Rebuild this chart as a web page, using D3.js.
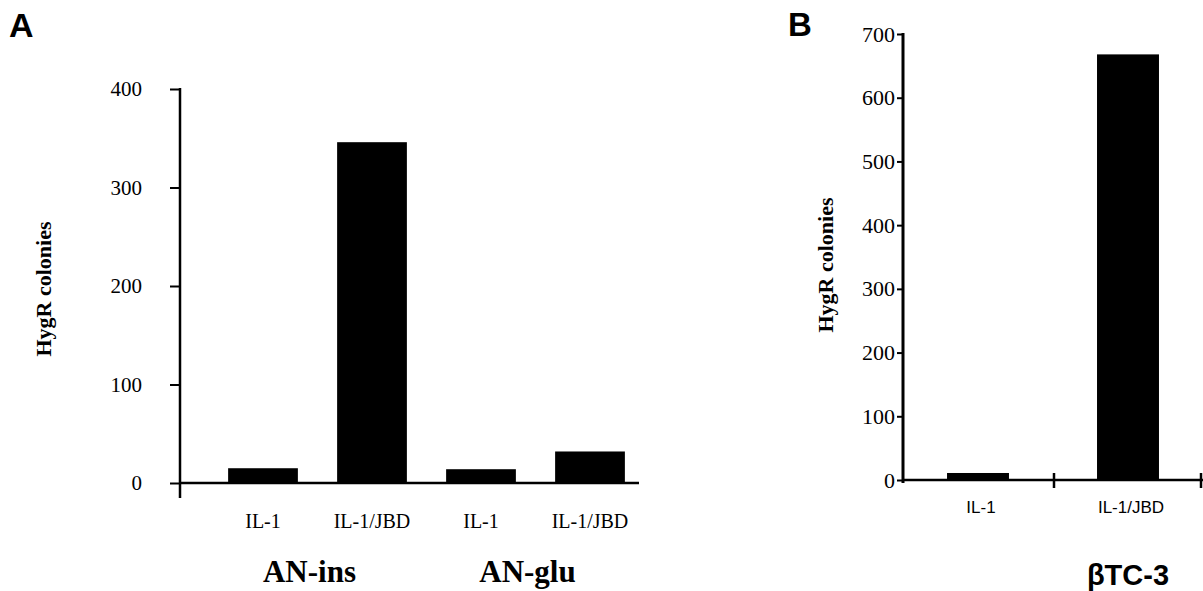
<!DOCTYPE html>
<html>
<head>
<meta charset="utf-8">
<script src="https://cdn.jsdelivr.net/npm/d3@7"></script>
<style>
  body { margin:0; background:#fff; }
</style>
</head>
<body>
<svg width="1203" height="591"></svg>
<script>
// panel A
var catsA = ["IL-1","IL-1/JBD","IL-1 ","IL-1/JBD "];
var valsA = [15,346,14,32];
var groupsA = ["AN-ins","AN-glu"];
var ticksA = [0,100,200,300,400];

// panel B
var catsB = ["IL-1","IL-1/JBD"];
var valsB = [11,668];
var groupB = "\u03B2TC-3";
var ticksB = [0,100,200,300,400,500,600,700];

var SERIF = "'Liberation Serif','Times New Roman',serif";
var SANS = "'Liberation Sans',Arial,sans-serif";

var svg = d3.select("svg");

// ---- A ----
var yA = d3.scaleLinear().domain([0,400]).range([483,89]);
var xA = d3.scaleBand().domain(catsA).range([208.5,644.5]).paddingInner(0.36).paddingOuter(0.18);

svg.append("text")
   .attr("x",9).attr("y",37)
   .style("font-family",SANS).style("font-size","34px").style("font-weight","bold")
   .text("A");

var axA = svg.append("g").attr("transform","translate(180,0)")
             .call(d3.axisLeft(yA).tickValues(ticksA).tickSize(10).tickPadding(28).tickFormat(d3.format("d")));
axA.select(".domain").remove();
axA.selectAll(".tick line").attr("stroke","#000").attr("stroke-width",2);
axA.selectAll(".tick text").style("font-family",SERIF).style("font-size","21px").attr("fill","#000");

svg.append("line").attr("x1",180).attr("x2",180).attr("y1",yA(400)-1).attr("y2",498)
   .attr("stroke","#000").attr("stroke-width",2.5);
svg.append("line").attr("x1",180).attr("x2",639).attr("y1",yA(0)).attr("y2",yA(0))
   .attr("stroke","#000").attr("stroke-width",2.5);

svg.append("g").selectAll("rect").data(valsA).enter().append("rect")
   .attr("x",function(d,i){return xA(catsA[i]);})
   .attr("y",function(d){return yA(d);})
   .attr("width",xA.bandwidth())
   .attr("height",function(d){return yA(0)-yA(d);})
   .attr("fill","#000");

svg.append("g").selectAll("text").data(catsA).enter().append("text")
   .attr("x",function(d){return xA(d)+xA.bandwidth()/2;})
   .attr("y",528)
   .attr("text-anchor","middle")
   .style("font-family",SERIF).style("font-size","20px")
   .text(function(d){return d.trim();});

svg.append("g").selectAll("text").data(groupsA).enter().append("text")
   .attr("x",function(d,i){return (xA(catsA[i*2])+xA(catsA[i*2+1])+xA.bandwidth())/2 - 8;})
   .attr("y",582)
   .attr("text-anchor","middle")
   .style("font-family",SERIF).style("font-size","31px").style("font-weight","bold")
   .text(function(d){return d;});

svg.append("text")
   .attr("transform","translate(51,289) rotate(-90)")
   .attr("text-anchor","middle")
   .style("font-family",SERIF).style("font-size","22px").style("font-weight","bold")
   .text("HygR colonies");

// ---- B ----
var yB = d3.scaleLinear().domain([0,700]).range([480,34]);
var xB = d3.scaleBand().domain(catsB).range([903,1203]).paddingInner(0.587).paddingOuter(0.2935);

svg.append("text")
   .attr("x",788).attr("y",36)
   .style("font-family",SANS).style("font-size","33px").style("font-weight","bold")
   .text("B");

var axB = svg.append("g").attr("transform","translate(903,0)")
             .call(d3.axisLeft(yB).tickValues(ticksB).tickSize(6).tickPadding(2).tickFormat(d3.format("d")));
axB.select(".domain").remove();
axB.selectAll(".tick line").attr("stroke","#000").attr("stroke-width",2);
axB.selectAll(".tick text").style("font-family",SERIF).style("font-size","22px").attr("fill","#000");

svg.append("line").attr("x1",903).attr("x2",903).attr("y1",yB(700)-1).attr("y2",yB(0)+3)
   .attr("stroke","#000").attr("stroke-width",3);
svg.append("line").attr("x1",903).attr("x2",1203).attr("y1",yB(0)).attr("y2",yB(0))
   .attr("stroke","#000").attr("stroke-width",2.5);
// category separators on the x axis
svg.append("g").selectAll("line").data([1054,1201]).enter().append("line")
   .attr("x1",function(d){return d;}).attr("x2",function(d){return d;})
   .attr("y1",yB(0)-7).attr("y2",yB(0)+8)
   .attr("stroke","#000").attr("stroke-width",2.5);

svg.append("g").selectAll("rect").data(valsB).enter().append("rect")
   .attr("x",function(d,i){return xB(catsB[i]);})
   .attr("y",function(d){return yB(d);})
   .attr("width",xB.bandwidth())
   .attr("height",function(d){return yB(0)-yB(d);})
   .attr("fill","#000");

svg.append("g").selectAll("text").data(catsB).enter().append("text")
   .attr("x",function(d){return xB(d)+xB.bandwidth()/2 + 3;})
   .attr("y",513)
   .attr("text-anchor","middle")
   .style("font-family",SANS).style("font-size","17px")
   .text(function(d){return d;});

svg.append("text")
   .attr("x",xB(catsB[1])+xB.bandwidth()/2)
   .attr("y",585)
   .attr("text-anchor","middle")
   .style("font-family",SANS).style("font-size","29px").style("font-weight","bold")
   .text(groupB);

svg.append("text")
   .attr("transform","translate(833,265) rotate(-90)")
   .attr("text-anchor","middle")
   .style("font-family",SERIF).style("font-size","22px").style("font-weight","bold")
   .text("HygR colonies");
</script>
</body>
</html>
